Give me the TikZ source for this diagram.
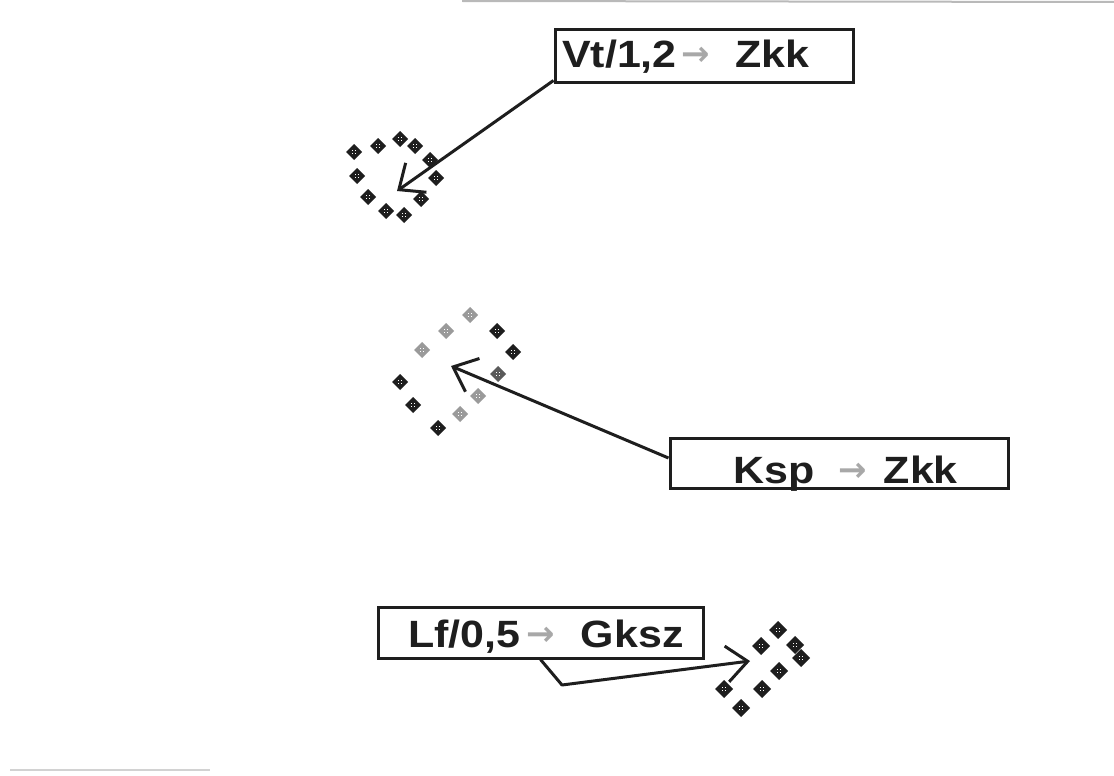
\documentclass[tikz,border=0pt]{standalone}
\usepackage{fontspec}
\setmainfont{Liberation Sans}
\newfontfamily\lblfont{Liberation Sans}[FakeStretch=1.13]
\newfontfamily\arrfont{DejaVu Sans}
\usetikzlibrary{arrows.meta,calc}
\definecolor{ink}{HTML}{1E1E1E}
\definecolor{mid}{HTML}{5A5A5A}
\definecolor{pale}{HTML}{9A9A9A}
\definecolor{arrgrey}{HTML}{A8A8A8}
\newcommand\garr{\raisebox{1.5pt}{\arrfont\fontsize{34}{34}\selectfont\color{arrgrey}→}}
\newcommand\dmnd[4]{%
  \fill[#3] (#1,#2) +(0,-#4) -- +(#4,0) -- +(0,#4) -- +(-#4,0) -- cycle;
  \fill[white] (#1,#2) +(-2.2,-2.2) rectangle +(-0.6,-0.6);
  \fill[white] (#1,#2) +(0.6,0.6) rectangle +(2.2,2.2);
  \fill[white] (#1,#2) +(0.6,-2.2) rectangle +(2.2,-0.6);
  \fill[white] (#1,#2) +(-2.2,0.6) rectangle +(-0.6,2.2);}
\begin{document}
\begin{tikzpicture}[x=1pt,y=-1pt,
  box/.style={draw=ink, line width=3pt, inner sep=0pt, fill=white},
  lbl/.style={anchor=base west, inner sep=0pt, text=ink,
    font=\lblfont\bfseries\fontsize{38}{38}\selectfont},
  conn/.style={draw=ink, line width=3pt, line join=round,
    -{Straight Barb[length=21pt,width=36pt]}},
  scan/.style={line width=2pt}]
\fill[white] (0,0) rectangle (1114,776);
\useasboundingbox (0,0) rectangle (1114,776);
% scan artefacts
\draw[scan, gray!55] (462,1) -- (1114,2);
\draw[scan, gray!35] (10,770) -- (210,770);

% boxes and labels
\node[box, minimum width=298pt, minimum height=53pt] (b1) at (704,56.5) {};
\node[lbl] (t1) at (562,67) {Vt/1,2\hspace{5pt}\garr\hspace{25pt}Zkk};
\node[box, minimum width=338pt, minimum height=50pt] (b2) at (839,463) {};
\node[lbl] (t2) at (733,483) {Ksp\hspace{24pt}\garr\hspace{17pt}Zkk};
\node[box, minimum width=325pt, minimum height=51pt] (b3) at (540.5,632.5) {};
\node[lbl] (t3) at (408,647) {Lf/0,5\hspace{6pt}\garr\hspace{26pt}Gksz};

% cluster 1
\foreach \x/\y in {354/152,357/176,368/197,386/211,404/215,421/199,436/178,430/160,415/146,400/139,378/146}
  {\dmnd{\x}{\y}{ink}{8}}
% cluster 2
\foreach \x/\y in {400/382,413/405,438/428,513/352,497/331}
  {\dmnd{\x}{\y}{ink}{8}}
\dmnd{498}{374}{mid}{8}
\foreach \x/\y in {460/414,478/396,470/315,446/331,422/350}
  {\dmnd{\x}{\y}{pale}{8}}
% cluster 3
\foreach \x/\y in {778/630,795/645,801/658,761/646,779/671,762/689,741/708,724/689}
  {\dmnd{\x}{\y}{ink}{9}}

% connectors
\coordinate (tip1) at (397,191);
\coordinate (tip2) at (451,366);
\coordinate (tip3) at (750,661);
\coordinate (bend3) at (562,685);
\draw[conn] ([yshift=4pt]b1.south west) -- (tip1);
\draw[conn] ([yshift=5pt]b2.west) -- (tip2);
\draw[conn] (b3.south) -- (bend3) -- (tip3);
\end{tikzpicture}
\end{document}
